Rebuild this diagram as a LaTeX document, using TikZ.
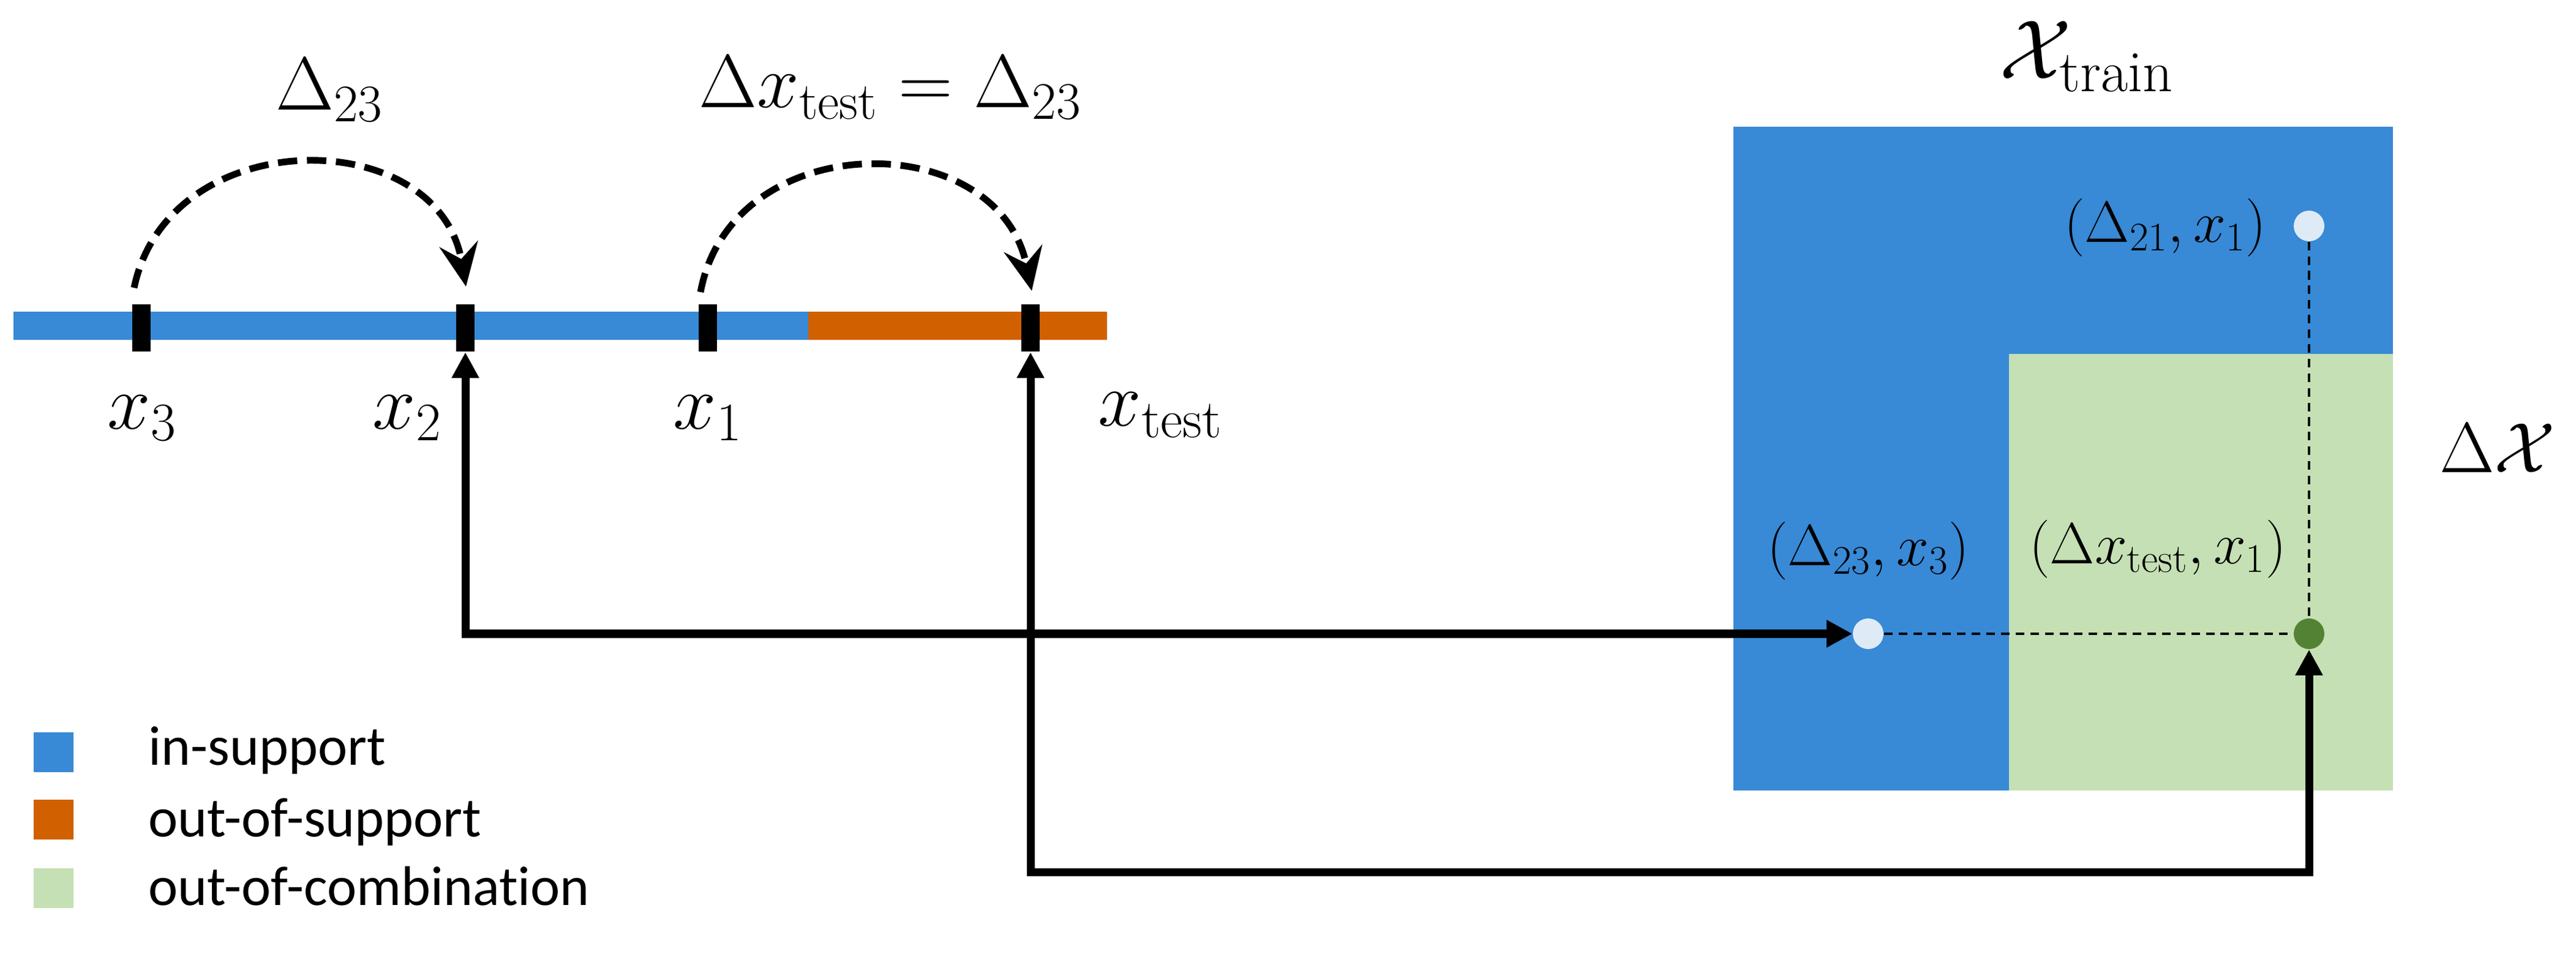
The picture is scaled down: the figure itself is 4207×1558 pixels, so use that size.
\RequirePackage{fix-cm}
\documentclass[tikz,border=0pt]{standalone}
\usepackage{fontspec}
\newfontfamily\legendfont[Ligatures=NoCommon]{Carlito}
\usetikzlibrary{arrows.meta,calc}
\definecolor{inblue}{RGB}{56,137,214}
\definecolor{outorange}{RGB}{209,96,0}
\definecolor{combgreen}{RGB}{197,224,180}
\definecolor{lightdot}{RGB}{222,235,247}
\definecolor{darkgreen}{RGB}{84,130,53}
\newcommand\bigmath{\fontsize{35}{40}\selectfont}
\newcommand\xmath{\fontsize{36}{40}\selectfont}
\newcommand\midmath{\fontsize{27}{32}\selectfont}
\newcommand\legsize{\legendfont\fontsize{26}{30}\selectfont}
\begin{document}
\begin{tikzpicture}[x=0.1mm,y=-0.1mm,
  tickmark/.style={fill=black,inner sep=0pt,minimum width=3mm,minimum height=7.7mm},
  dotlight/.style={circle,fill=lightdot,inner sep=0pt,minimum size=5mm},
  dotdark/.style={circle,fill=darkgreen,inner sep=0pt,minimum size=5mm},
  jump/.style={line width=3.1pt,dash pattern=on 9pt off 4.5pt,-{Stealth[length=20pt,width=18pt,inset=7pt]}},
  conn/.style={line width=3.7pt,{Triangle[length=12pt,width=12pt]}-{Triangle[length=12pt,width=12pt]}},
  guide/.style={line width=0.9pt,dash pattern=on 4pt off 2.8pt},
  legsq/.style={inner sep=0pt,minimum size=6.5mm},
  legtext/.style={anchor=base west,inner sep=0pt,font=\legsize}
]
\useasboundingbox (0,0) rectangle (4207,1558);

% number line
\fill[inblue] (22,509) rectangle (1320,555);
\fill[outorange] (1320,509) rectangle (1808,555);
\node[tickmark] (t3) at (231,536) {};
\node[tickmark] (t2) at (760,536) {};
\node[tickmark] (t1) at (1156,536) {};
\node[tickmark] (tt) at (1683,536) {};

% jumps
\coordinate (a1s) at (219,470);
\coordinate (a1e) at (761,468);
\coordinate (a2s) at (1144,477);
\coordinate (a2e) at (1685,475);
\draw[jump] (a1s) .. controls (275,200) and (715,200) .. (a1e);
\draw[jump] (a2s) .. controls (1195,205) and (1630,205) .. (a2e);

% top labels
\node[anchor=base,font=\bigmath] (lD) at (538,180) {$\Delta_{23}$};
\node[anchor=base,font=\bigmath] (lE) at (1454,176) {$\Delta x_{\mathrm{test}} = \Delta_{23}$};

% x labels
\node[anchor=base,font=\xmath] (lx3) at (232,701) {$x_3$};
\node[anchor=base,font=\xmath] (lx2) at (665,701) {$x_2$};
\node[anchor=base,font=\xmath] (lx1) at (1156,701) {$x_1$};
\node[anchor=base,font=\xmath] (lxt) at (1895,696) {$x_{\mathrm{test}}$};

% right square
\fill[inblue] (2831,207) rectangle (3908,1291);
\fill[combgreen] (3281,578) rectangle (3908,1291);
\node[dotlight] (d21) at (3771,369) {};
\node[dotlight] (d23) at (3051,1035) {};
\node[dotdark] (dg) at (3771,1035) {};
\draw[guide] (d21) -- (dg);
\draw[guide] (d23) -- (dg);

\node[font=\midmath] (l21) at (3536,372) {$(\Delta_{21},x_1)$};
\node[font=\midmath] (l23) at (3051,900) {$(\Delta_{23},x_3)$};
\node[font=\midmath] (lt) at (3524,897) {$(\Delta x_{\mathrm{test}},x_1)$};
\node[anchor=base,font=\fontsize{39}{44}\selectfont] (ltr) at (3408,129) {$\mathcal{X}_{\mathrm{train}}$};
\node[anchor=base,font=\fontsize{33}{38}\selectfont] (ldx) at (4079,772) {$\Delta\mathcal{X}$};

% connectors
\draw[conn] (t2.south) |- (d23);
\coordinate (low) at (2700,1424);
\draw[conn] (tt.south) |- (low) -| (dg);

% legend
\node[legsq,fill=inblue] (k1) at (87,1228.5) {};
\node[legsq,fill=outorange] (k2) at (87,1338.5) {};
\node[legsq,fill=combgreen] (k3) at (87,1450.5) {};
\node[legtext] (k1t) at (242,1249) {in-support};
\node[legtext] (k2t) at (242,1366) {out-of-support};
\node[legtext] (k3t) at (242,1478) {out-of-combination};
\end{tikzpicture}
\end{document}
